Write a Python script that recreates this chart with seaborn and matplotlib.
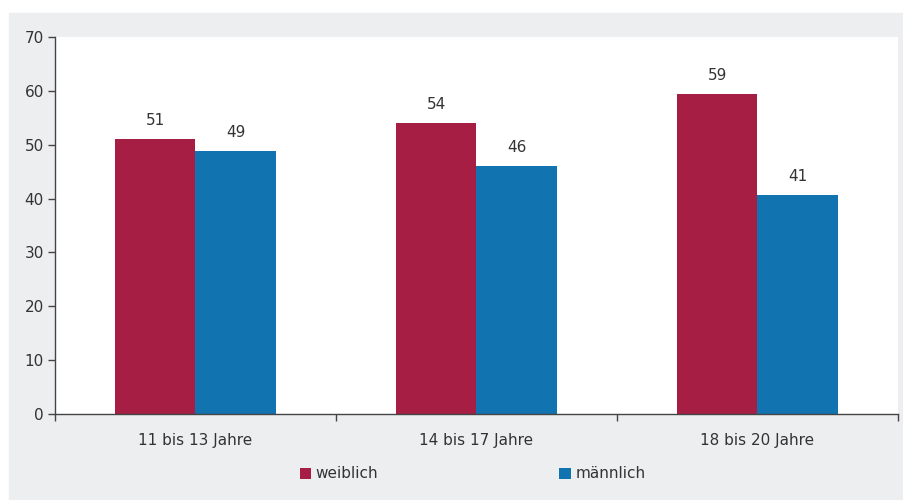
import pandas as pd
import matplotlib
matplotlib.use('Agg')
from matplotlib import pyplot as plt
from matplotlib.patches import Rectangle, Patch
from matplotlib.ticker import FixedLocator
import seaborn as sns

groups = ['11 bis 13 Jahre', '14 bis 17 Jahre', '18 bis 20 Jahre']
weiblich = [51.1, 54.0, 59.4]
maennlich = [48.9, 46.0, 40.6]
series = ['weiblich', 'männlich']
colors = ['#A61E43', '#1173B0']

df = pd.DataFrame({
    'gruppe': groups * 2,
    'geschlecht': ['weiblich'] * 3 + ['männlich'] * 3,
    'anteil': weiblich + maennlich,
})

sns.set_style('white')
plt.rcParams['font.family'] = ['DejaVu Sans']
text_col = '#333333'
fs = 11

fig = plt.figure(figsize=(9.04, 5.0), dpi=100, facecolor='white')
# grey panel behind the chart
fig.add_artist(Rectangle((9 / 904, 0), 895 / 904, 487 / 500,
                         transform=fig.transFigure, color='#EDEEF0', zorder=-10))
ax = fig.add_axes([55 / 904, 86 / 500, 843 / 904, 377 / 500])

sns.barplot(data=df, x='gruppe', y='anteil', hue='geschlecht',
            hue_order=series, palette=colors, width=0.57,
            saturation=1, legend=False, edgecolor='none', linewidth=0, ax=ax)

for cont in ax.containers:
    ax.bar_label(cont, fmt='%.0f', padding=8, fontsize=fs, color=text_col)

ax.set_ylim(0, 70)
ax.set_xlim(-0.5, 2.5)
ax.set_yticks(range(0, 71, 10))
ax.set_xlabel('')
ax.set_ylabel('')
ax.set_facecolor('white')
for s in ['top', 'right']:
    ax.spines[s].set_visible(False)
for s in ['left', 'bottom']:
    ax.spines[s].set_color('#444444')
    ax.spines[s].set_linewidth(1)

ax.tick_params(axis='y', length=5, width=1, color='#444444', labelsize=fs,
               labelcolor=text_col, pad=3, left=True)
ax.tick_params(axis='x', which='major', length=0, labelsize=fs,
               labelcolor=text_col, pad=14)
ax.xaxis.set_minor_locator(FixedLocator([-0.5, 0.5, 1.5, 2.5]))
ax.tick_params(axis='x', which='minor', length=5, width=1, color='#444444', bottom=True)

handles = [Patch(facecolor=c, edgecolor='none') for c in colors]
fig.legend(handles, series, loc='center', bbox_to_anchor=(472.5 / 904, 1 - 474 / 500),
           ncol=2, frameon=False, fontsize=fs, labelcolor=text_col,
           handlelength=0.75, handleheight=0.75, handletextpad=0.3, columnspacing=11.85)

fig.savefig('out.png', dpi=100, facecolor='white')
